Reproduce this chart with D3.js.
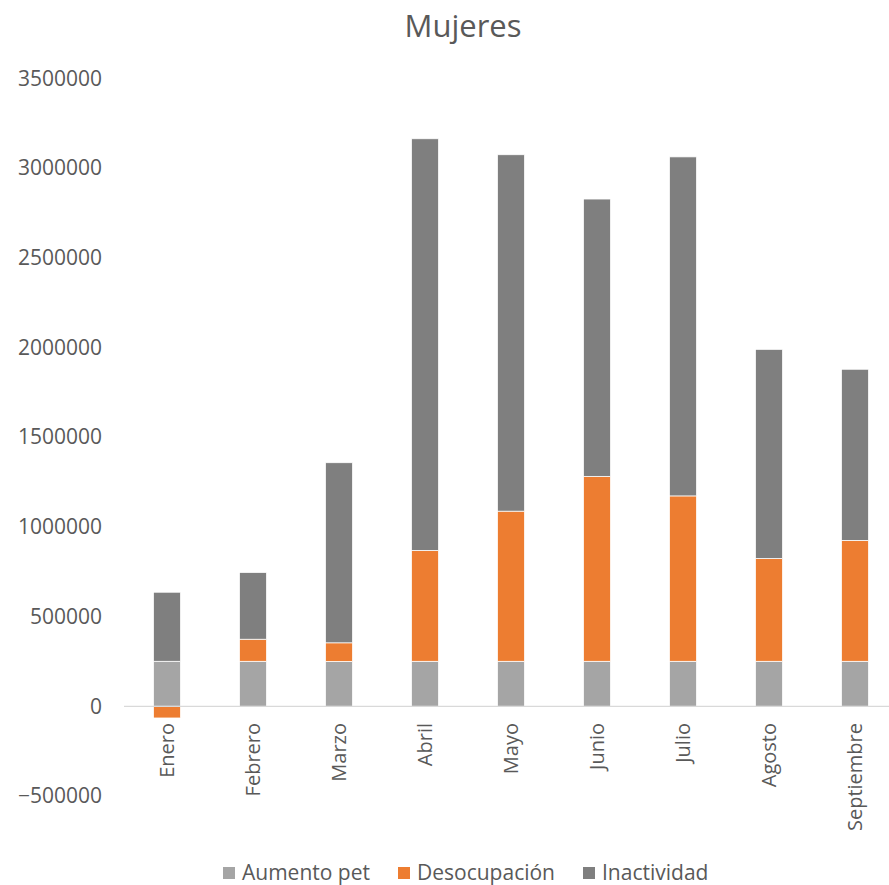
<!DOCTYPE html>
<html>
<head>
<meta charset="utf-8">
<script src="https://cdn.jsdelivr.net/npm/d3@7"></script>
<style>
  body { margin: 0; background: #fff; }
  text { font-family: "Open Sans", "Liberation Sans", sans-serif; fill: #595959; }
</style>
</head>
<body>
<div id="chart"></div>
<script>
// months and the three series
var meses = ["Enero", "Febrero", "Marzo", "Abril", "Mayo", "Junio", "Julio", "Agosto", "Septiembre"];
var aumentoPet = [251000, 251000, 250000, 251000, 251000, 251000, 251000, 251000, 251000];
var desocupacion = [-65000, 123000, 104000, 618000, 837000, 1031000, 922000, 573000, 674000];
var inactividad = [385000, 372000, 1004000, 2295000, 1987000, 1546000, 1890000, 1166000, 954000];
var yTicks = [-500000, 0, 500000, 1000000, 1500000, 2000000, 2500000, 3000000, 3500000];

var series = ["Aumento pet", "Desocupación", "Inactividad"];
var colors = ["#A5A5A5", "#ED7D31", "#7F7F7F"];

var W = 889, H = 885;
var svg = d3.select("#chart").append("svg")
  .attr("width", W)
  .attr("height", H);

// build table for d3.stack
var rows = meses.map(function (m, i) {
  return { mes: m, "Aumento pet": aumentoPet[i], "Desocupación": desocupacion[i], "Inactividad": inactividad[i] };
});

var stacked = d3.stack()
  .keys(series)
  .offset(d3.stackOffsetDiverging)(rows);

var x = d3.scaleBand()
  .domain(meses)
  .range([124, 898])
  .paddingInner(0.686)
  .paddingOuter(0.343);

var y = d3.scaleLinear()
  .domain([-500000, 3500000])
  .range([796, 78.5]);

// title
svg.append("text")
  .attr("x", 463)
  .attr("y", 37)
  .attr("text-anchor", "middle")
  .style("font-size", "31px")
  .text("Mujeres");

// y axis labels
var yAxis = svg.append("g")
  .attr("transform", "translate(102,0)")
  .call(d3.axisLeft(y).tickValues(yTicks).tickSize(0).tickPadding(0).tickFormat(d3.format("d")));
yAxis.select(".domain").remove();
yAxis.selectAll("text")
  .style("font-size", "21px")
  .style("font-family", "\"Open Sans\", sans-serif")
  .attr("fill", "#595959");

// bars
svg.append("g").selectAll("g")
  .data(stacked)
  .enter().append("g")
    .attr("fill", function (d, i) { return colors[i]; })
  .selectAll("rect")
  .data(function (d) { return d; })
  .enter().append("rect")
    .attr("x", function (d) { return x(d.data.mes); })
    .attr("width", x.bandwidth())
    .attr("y", function (d) { return y(Math.max(d[0], d[1])); })
    .attr("height", function (d) { return Math.abs(y(d[0]) - y(d[1])); })
    .attr("stroke", "#ffffff")
    .attr("stroke-width", 0.75);

// zero line
svg.append("line")
  .attr("x1", 124).attr("x2", 898)
  .attr("y1", y(0)).attr("y2", y(0))
  .attr("stroke", "#D9D9D9")
  .attr("stroke-width", 1.3);

// x labels, rotated
svg.append("g").selectAll("text")
  .data(meses)
  .enter().append("text")
    .attr("transform", function (d) {
      return "translate(" + (x(d) + x.bandwidth() / 2 + 7) + ",723) rotate(-90)";
    })
    .attr("text-anchor", "end")
    .style("font-size", "20px")
    .text(function (d) { return d; });

// legend
var legX = [223, 398, 583];
var leg = svg.append("g").selectAll("g")
  .data(series)
  .enter().append("g")
    .attr("transform", function (d, i) { return "translate(" + legX[i] + ",866)"; });
leg.append("rect")
  .attr("width", 12).attr("height", 12).attr("y", 1)
  .attr("fill", function (d, i) { return colors[i]; });
leg.append("text")
  .attr("x", 19)
  .attr("y", 14)
  .style("font-size", "21px")
  .text(function (d) { return d; });
</script>
</body>
</html>
